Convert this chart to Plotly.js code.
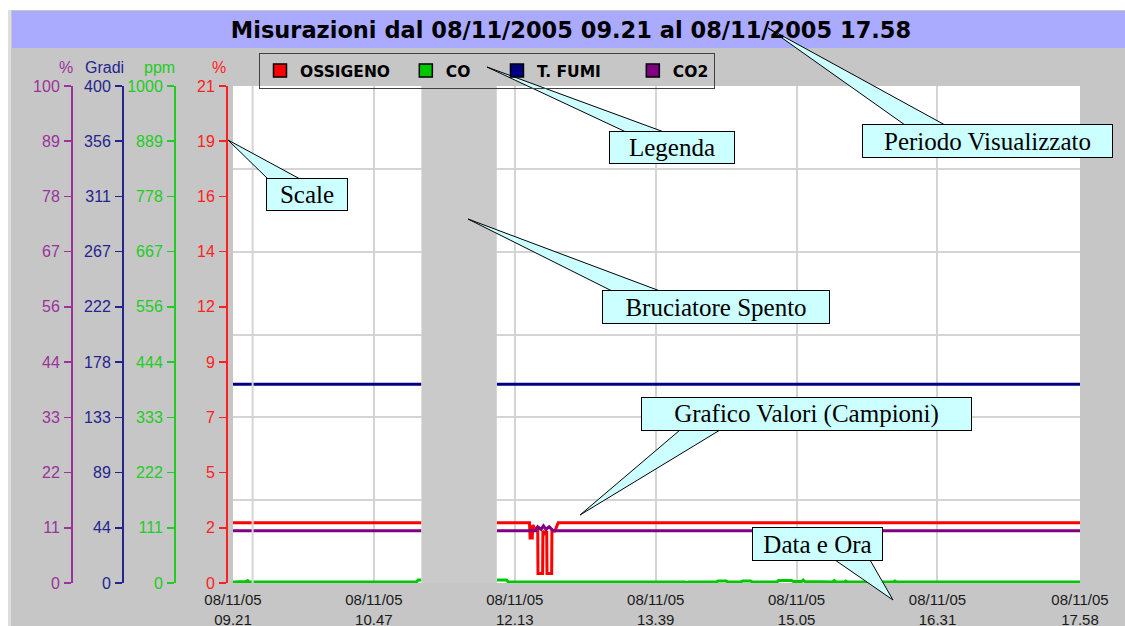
<!DOCTYPE html>
<html><head><meta charset="utf-8">
<script src="https://cdn.plot.ly/plotly-3.0.1.min.js"></script>
<style>html,body{margin:0;padding:0;background:#c6c6c6;overflow:hidden}</style>
</head><body><div id="chart" style="width:1125px;height:626px"></div>
<script>
// ---------------- DATA ----------------
const day = '2005-11-08 ';
const xTickTimes = ['09:21','10:47','12:13','13:39','15:05','16:31','17:58'];
const xTickLabels = ['08/11/05<br>09.21','08/11/05<br>10.47','08/11/05<br>12.13','08/11/05<br>13.39','08/11/05<br>15.05','08/11/05<br>16.31','08/11/05<br>17.58'];
const burnerOff = ['11:16','12:02'];      // Bruciatore spento
const cursorTime = '09:33';

// OSSIGENO (%)
const o2Time = ['09:21','11:16','11:40','12:02','12:22:00','12:22:20','12:23:40','12:24:00','12:25:30','12:27:00','12:27:10','12:30:00','12:30:10','12:31:20','12:32:30','12:32:40','12:35:30','12:35:40','12:37:30','12:39:30','17:58'];
const o2Val  = [2.55, 2.55, null, 2.55, 2.55, 1.9, 1.9, 2.45, 2.25, 2.35, 0.4, 0.4, 2.2, 2.1, 2.2, 0.4, 0.4, 2.2, 2.2, 2.55, 2.55];

// CO (ppm)
const coTime = ['09:21','09:26','09:29','09:30','09:31','09:40','10:00','10:30','11:00','11:13','11:14','11:16','11:40',
  '12:02','12:08','12:09','12:40','13:00','13:30','13:57','13:58','13:59','14:16','14:17','14:22','14:23','14:31','14:32','14:37','14:38',
  '14:53','14:54','15:02','15:03','15:08','15:09','15:10','15:12','15:13','15:27','15:28','15:29','15:34','15:35','15:36','16:04','16:05','16:06','17:00','17:58'];
const coVal = [2,2,3,5,2,2,2,2,2,2,6,6,null,
  6,6,2,2,2,2,2,0,2,2,4,4,2,2,4,4,2,
  2,5,5,3,3,6,3,3,2,2,5,2,2,4,2,2,4,2,2,2];

// T. FUMI (Gradi)
const fumiTime = ['09:21','11:16','11:40','12:02','17:58'];
const fumiVal  = [160, 160, null, 160, 160];

// CO2 (%)
const co2Time = ['09:21','11:16','11:40','12:02','12:26:00','12:27:00','12:29:00','12:30:30','12:32:00','12:34:00','12:36:30','17:58'];
const co2Val  = [10.5, 10.5, null, 10.5, 10.5, 11.3, 10.8, 11.5, 10.8, 11.3, 10.5, 10.5];

// Scales
const o2Range = [0, 21];
const coRange = [0, 1000];
const fumiRange = [0, 400];
const co2Range = [0, 100];
const o2Ticks = ['0','2','5','7','9','12','14','16','19','21'];
const coTicks = ['0','111','222','333','444','556','667','778','889','1000'];
const fumiTicks = ['0','44','89','133','178','222','267','311','356','400'];
const co2Ticks = ['0','11','22','33','44','56','67','78','89','100'];

const seriesNames = ['OSSIGENO','CO','T. FUMI','CO2'];
const seriesColors = ['#ff0000','#00c800','#000080','#800080'];
const axisColors = ['#ff2020','#22cc22','#24248f','#993399'];

// ---------------- LAYOUT HELPERS ----------------
const W = 1125, H = 626, ML = 40, MR = 45, MT = 86, MB = 43;
const PW = W - ML - MR, PH = H - MT - MB;
const fx = x => (x - ML) / PW;
const fy = y => (H - MB - y) / PH;
const T = t => day + t;

function line(times, vals, color, yaxis) {
  return {x: times.map(T), y: vals, mode: 'lines', line: {color: color, width: 3},
          yaxis: yaxis, showlegend: false, hoverinfo: 'skip', connectgaps: false};
}
const yRefs = ['y','y2','y3','y4'];
const traces = [
  {x: [T('09:21')], y: [null], yaxis: 'y5', mode: 'lines', showlegend: false, hoverinfo: 'skip'},
  line(o2Time, o2Val, seriesColors[0], 'y'),
  line(coTime, coVal, seriesColors[1], 'y2'),
  line(fumiTime, fumiVal, seriesColors[2], 'y3'),
  line(co2Time, co2Val, seriesColors[3], 'y4')
];
const pads = ['\u00a0\u00a0', '\u00a0\u00a0\u00a0\u00a0', '\u00a0\u00a0\u00a0\u00a0\u00a0', ''];
seriesNames.forEach((n, i) => {
  traces.push({x: [null], y: [null], mode: 'markers', name: n + pads[i], yaxis: yRefs[i],
    marker: {symbol: 'square', size: 13, color: seriesColors[i], line: {color: '#000', width: 1.5}},
    hoverinfo: 'skip'});
});

function yax(range, ticks, color, pos, overlay) {
  const a = {
    range: range, tickmode: 'array',
    tickvals: ticks.map((_, i) => range[0] + (range[1] - range[0]) * i / (ticks.length - 1)),
    ticktext: ticks, anchor: 'free', position: pos, side: 'left',
    showgrid: false, zeroline: false, showline: true, linecolor: color, linewidth: 1.5,
    ticks: 'outside', ticklen: 7, tickwidth: 1.5, tickcolor: color, ticklabelstandoff: 1,
    tickfont: {family: 'Liberation Sans, Arial, sans-serif', size: 16, color: color},
    fixedrange: true, automargin: false, domain: [0, 1]
  };
  if (overlay) a.overlaying = overlay;
  return a;
}

const shapes = [
  {type: 'rect', xref: 'paper', yref: 'paper', x0: fx(0), x1: fx(W), y0: fy(0), y1: fy(10), fillcolor: '#ffffff', line: {width: 0}, layer: 'below'},
  {type: 'rect', xref: 'paper', yref: 'paper', x0: fx(0), x1: fx(8), y0: fy(0), y1: fy(H), fillcolor: '#ffffff', line: {width: 0}, layer: 'below'},
  {type: 'rect', xref: 'paper', yref: 'paper', x0: fx(8), x1: fx(11), y0: fy(10), y1: fy(H), fillcolor: '#dedede', line: {width: 0}, layer: 'below'},
  {type: 'rect', xref: 'paper', yref: 'paper', x0: fx(12), x1: fx(W), y0: fy(11), y1: fy(48), fillcolor: '#aaaaff', line: {width: 0}, layer: 'below'},
  {type: 'rect', xref: 'x', yref: 'paper', x0: T(burnerOff[0]), x1: T(burnerOff[1]), y0: 0, y1: 1, fillcolor: '#cacaca', line: {width: 0}, layer: 'above'},
  {type: 'line', xref: 'x', yref: 'paper', x0: T(cursorTime), x1: T(cursorTime), y0: 0, y1: 1, line: {color: '#d4d4d4', width: 2}, layer: 'above'}
];

const callouts = [
  {text: 'Periodo Visualizzato', box: [862, 124, 1113, 158], tip: [768, 28], base: [905, 945]},
  {text: 'Legenda', box: [609, 131, 735, 164], tip: [487, 67], base: [626, 664]},
  {text: 'Scale', box: [266, 178, 348, 211], tip: [228, 140], base: [268, 300]},
  {text: 'Bruciatore Spento', box: [602, 290, 830, 324], tip: [468, 219], base: [612, 660]},
  {text: 'Grafico Valori (Campioni)', box: [641, 397, 972, 431], tip: [580, 515], base: [680, 720]},
  {text: 'Data e Ora', box: [752, 527, 883, 561], tip: [893, 600], base: [835, 870]}
];
const axTitles = [['%', 66, 3], ['Gradi', 104, 2], ['ppm', 159, 1], ['%', 219, 0]];
const annotations = axTitles.map(([t, x, c]) => ({text: t, x: fx(x), y: fy(67), xref: 'paper', yref: 'paper',
  xanchor: 'center', yanchor: 'middle', showarrow: false,
  font: {family: 'Liberation Sans, Arial', size: 16, color: axisColors[c]}}));
callouts.forEach(c => {
  const [x0, y0, x1, y1] = c.box;
  const by = c.tip[1] < y0 ? y0 + 1 : y1 - 1;
  shapes.push({type: 'path', xref: 'paper', yref: 'paper', layer: 'above',
    path: `M ${fx(c.tip[0])} ${fy(c.tip[1])} L ${fx(c.base[0])} ${fy(by)} L ${fx(c.base[1])} ${fy(by)} Z`,
    fillcolor: '#ccffff', line: {color: '#000000', width: 1}});
  annotations.push({text: c.text, xref: 'paper', yref: 'paper', x: fx((x0 + x1) / 2), y: fy((y0 + y1) / 2),
    xanchor: 'center', yanchor: 'middle', showarrow: false, width: x1 - x0 - 2, height: y1 - y0 - 2,
    bgcolor: '#ccffff', bordercolor: '#000000', borderwidth: 1, borderpad: 0,
    font: {family: 'Liberation Serif, Times New Roman, serif', size: 25, color: '#000'}});
});

const layout = {
  width: W, height: H,
  margin: {l: ML, r: MR, t: MT, b: MB, pad: 0},
  paper_bgcolor: '#c6c6c6', plot_bgcolor: '#ffffff',
  title: {text: '<b>Misurazioni dal 08/11/2005 09.21 al 08/11/2005 17.58</b>',
    xref: 'container', yref: 'container', x: 571 / W, y: 1 - 30 / H, xanchor: 'center', yanchor: 'middle',
    font: {family: 'DejaVu Sans, Verdana, sans-serif', size: 22.5, color: '#000'}},
  showlegend: true,
  legend: {orientation: 'h', x: fx(259), y: fy(53), xanchor: 'left', yanchor: 'top', xref: 'paper', yref: 'paper',
    bgcolor: 'rgba(0,0,0,0)', bordercolor: '#404040', borderwidth: 1, itemclick: false, itemdoubleclick: false,
    font: {family: 'DejaVu Sans, Verdana, sans-serif', size: 15.5, color: '#000', weight: 'bold'}},
  xaxis: {type: 'date', domain: [fx(233), 1], range: [T('09:21'), T('17:58')],
    tickmode: 'array', tickvals: xTickTimes.map(T), ticktext: xTickLabels,
    showgrid: true, gridcolor: '#d4d4d4', gridwidth: 2, zeroline: false, showline: false, ticks: '',
    ticklabelstandoff: 6,
    tickfont: {family: 'Liberation Sans, Arial, sans-serif', size: 15, color: '#1a1a1a'},
    fixedrange: true, automargin: false},
  yaxis: yax(o2Range, o2Ticks, axisColors[0], fx(226), null),
  yaxis2: yax(coRange, coTicks, axisColors[1], fx(174), 'y'),
  yaxis3: yax(fumiRange, fumiTicks, axisColors[2], fx(122), 'y'),
  yaxis4: yax(co2Range, co2Ticks, axisColors[3], fx(71), 'y'),
  yaxis5: {range: [0, 6], dtick: 1, tick0: 0, overlaying: 'y', anchor: 'x', showgrid: true,
    gridcolor: '#d4d4d4', gridwidth: 2, showticklabels: false, ticks: '', zeroline: false, showline: false,
    fixedrange: true, automargin: false},
  shapes: shapes,
  annotations: annotations
};

Plotly.newPlot('chart', traces, layout, {displayModeBar: false, staticPlot: true});
</script></body></html>
